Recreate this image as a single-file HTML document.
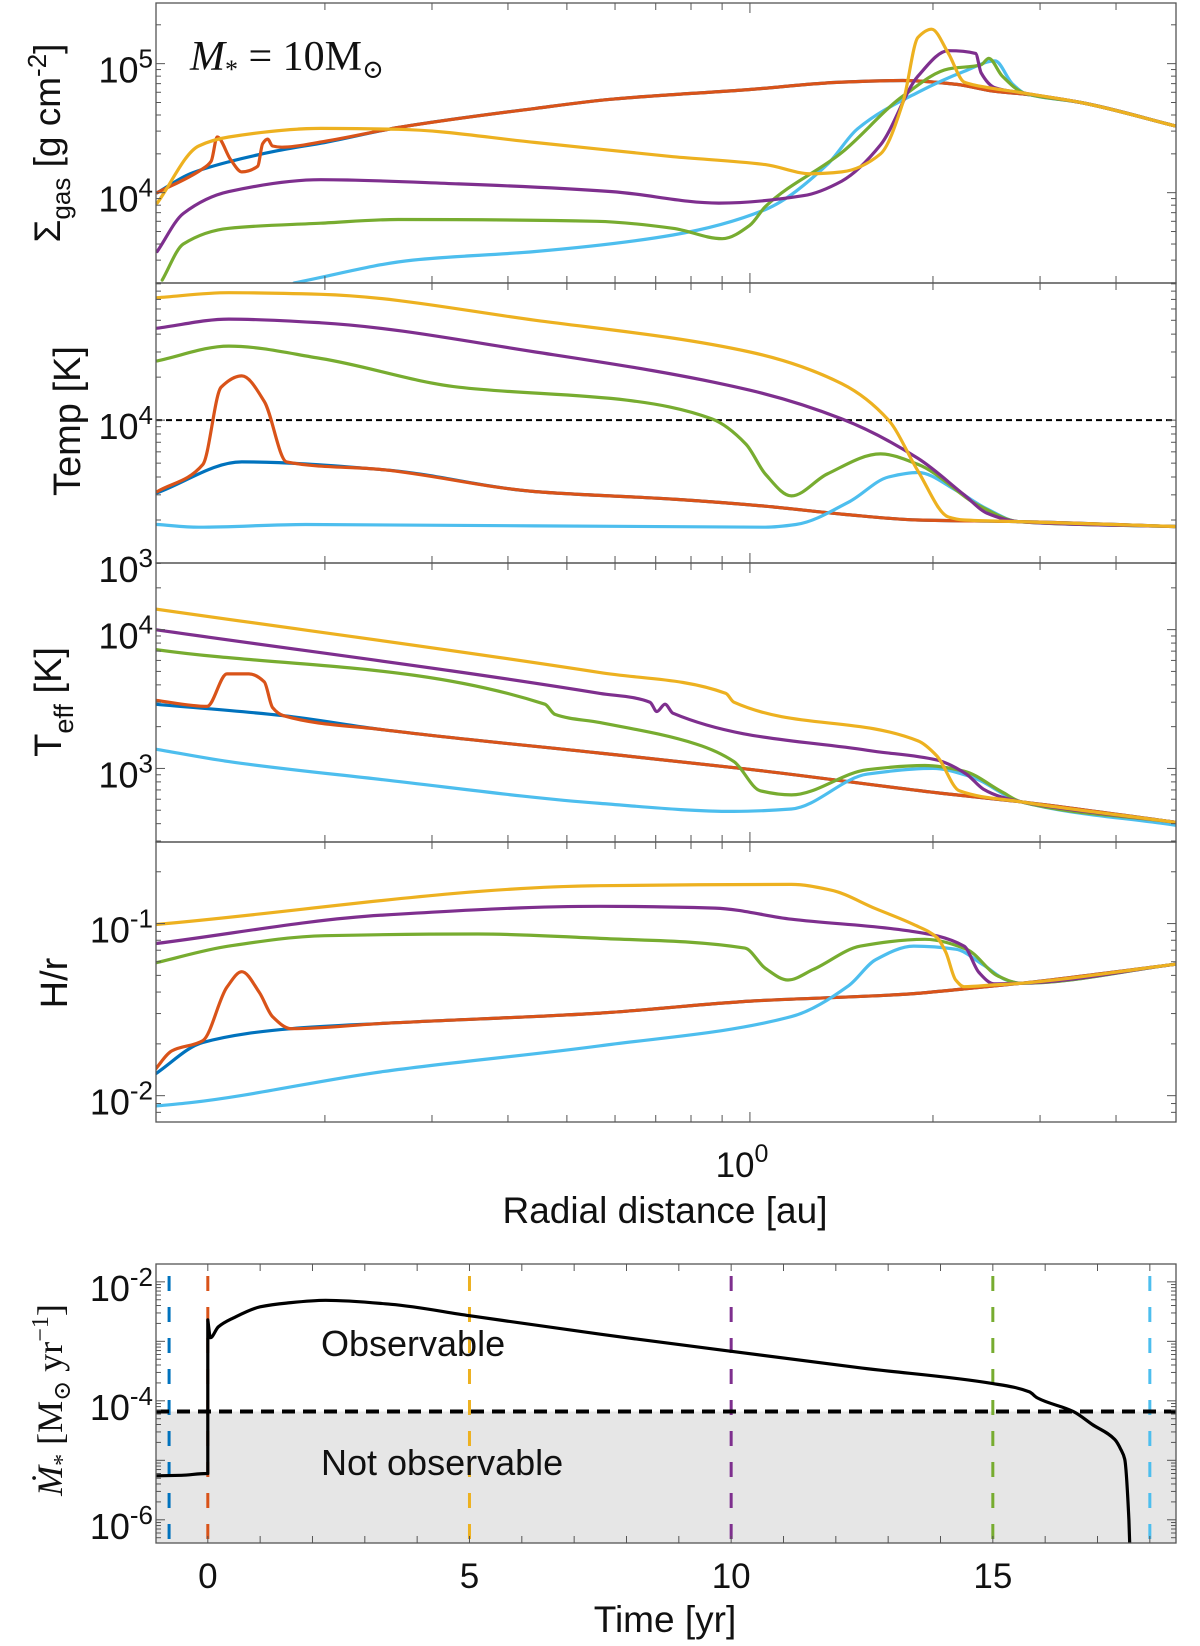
<!DOCTYPE html>
<html><head><meta charset="utf-8">
<style>
html,body{margin:0;padding:0;background:#fff;}
svg{display:block;}
text{font-family:"Liberation Sans",sans-serif;fill:#111;}
.serif{font-family:"Liberation Serif","DejaVu Serif",serif;}
</style></head>
<body>
<svg id="fig" width="1200" height="1646" viewBox="0 0 1200 1646" xmlns="http://www.w3.org/2000/svg">
<defs>
<clipPath id="c1"><rect x="156" y="3" width="1020" height="280"/></clipPath>
<clipPath id="c2"><rect x="156" y="283" width="1020" height="280"/></clipPath>
<clipPath id="c3"><rect x="156" y="563" width="1020" height="279"/></clipPath>
<clipPath id="c4"><rect x="156" y="842" width="1020" height="280"/></clipPath>
<clipPath id="c5"><rect x="156" y="1264" width="1020" height="279"/></clipPath>
</defs>
<g id="layer"></g>
<text x="190" y="70" class="serif" font-size="42"><tspan font-style="italic">M</tspan><tspan font-size="26" dy="8">*</tspan><tspan dy="-8"> = 10M</tspan><tspan font-size="26" dy="8">⊙</tspan></text>
<text transform="rotate(-90 60 143)" x="60" y="143" text-anchor="middle" font-size="37">Σ<tspan font-size="26" dy="10">gas</tspan><tspan dy="-10"> [g cm</tspan><tspan font-size="26" dy="-14">-2</tspan><tspan dy="14">]</tspan></text>
<text transform="rotate(-90 80 421)" x="80" y="421" text-anchor="middle" font-size="38">Temp [K]</text>
<text transform="rotate(-90 61 702)" x="61" y="702" text-anchor="middle" font-size="38">T<tspan font-size="27" dy="12">eff</tspan><tspan dy="-12"> [K]</tspan></text>
<text transform="rotate(-90 67 983)" x="67" y="983" text-anchor="middle" font-size="38">H/r</text>
<text x="742" y="1177" text-anchor="middle" font-size="35">10<tspan font-size="25" dy="-15">0</tspan></text>
<text x="665" y="1223" text-anchor="middle" font-size="37">Radial distance [au]</text>
<text transform="rotate(-90 62 1400)" x="62" y="1400" text-anchor="middle" class="serif" font-size="36"><tspan font-style="italic">Ṁ</tspan><tspan font-size="24" dy="8">*</tspan><tspan dy="-8">  [M</tspan><tspan font-size="24" dy="8">⊙</tspan><tspan dy="-8"> yr</tspan><tspan font-size="24" dy="-14">−1</tspan><tspan dy="14">]</tspan></text>
<text x="665" y="1632" text-anchor="middle" font-size="37">Time [yr]</text>
<text x="321" y="1356" font-size="36">Observable</text>
<text x="321" y="1475" font-size="36">Not observable</text>
</svg>
<script>
// ---------- data ----------
const colBlue="#0072BD",colRed="#D95319",colOrange="#EDB120",colPurple="#7E2F8E",colGreen="#77AC30",colCyan="#4DBEEE";
// Panel 1: surface density
const sigBlueR=[0.106,0.12,0.14,0.166,0.2,0.264,0.444,0.593,1.0,1.416,1.785,2.19,2.53,2.83,3.5,5.0];
const sigBlueV=[1.0e4,1.4e4,1.75e4,2.1e4,2.45e4,3.2e4,4.5e4,5.3e4,6.3e4,7.2e4,7.4e4,6.9e4,6.1e4,5.8e4,5.0e4,3.3e4];
const sigRedR=[0.106,0.125,0.13,0.133,0.14,0.146,0.155,0.158,0.161,0.164,0.17,0.2,0.264,0.444,0.593,1.0,1.416,1.785,2.19,2.53,2.83,3.5,5.0];
const sigRedV=[1.0e4,1.5e4,1.75e4,2.7e4,1.8e4,1.45e4,1.6e4,2.4e4,2.6e4,2.3e4,2.25e4,2.5e4,3.2e4,4.5e4,5.3e4,6.3e4,7.2e4,7.4e4,6.9e4,6.1e4,5.8e4,5.0e4,3.3e4];
const sigOrangeR=[0.106,0.124,0.139,0.197,0.264,0.444,0.747,1.06,1.26,1.416,1.64,1.785,1.89,1.99,2.12,2.25,2.35,2.83,3.5,5.0];
const sigOrangeV=[8.3e3,2.3e4,2.7e4,3.15e4,3.1e4,2.45e4,1.9e4,1.65e4,1.4e4,1.45e4,2.0e4,5.0e4,1.6e5,1.85e5,1.2e5,7.2e4,6.8e4,5.9e4,5.0e4,3.3e4];
const sigPurpleR=[0.106,0.117,0.139,0.197,0.332,0.593,0.889,1.227,1.416,1.64,1.89,2.12,2.35,2.4,2.53,2.83,3.5,5.0];
const sigPurpleV=[3.5e3,6.9e3,1.02e4,1.26e4,1.17e4,1.02e4,8.3e3,9.5e3,1.23e4,2.35e4,8.0e4,1.26e5,1.2e5,8.5e4,6.5e4,5.9e4,5.0e4,3.3e4];
const sigGreenR=[0.108,0.117,0.139,0.197,0.264,0.56,0.747,0.9,1.0,1.06,1.416,1.785,2.12,2.4,2.47,2.6,2.83,3.5,5.0];
const sigGreenV=[2.1e3,4.0e3,5.3e3,5.8e3,6.2e3,6.0e3,5.3e3,4.4e3,5.6e3,7.8e3,2.05e4,5.6e4,9.1e4,9.8e4,1.1e5,8.0e4,5.9e4,5.0e4,3.3e4];
const sigCyanR=[0.178,0.279,0.444,0.747,1.06,1.34,1.5,1.89,2.25,2.53,2.7,2.83,3.5,5.0];
const sigCyanV=[2.0e3,3.0e3,3.5e3,4.7e3,7.4e3,1.65e4,3.1e4,6.0e4,8.7e4,1.05e5,7.0e4,5.9e4,5.0e4,3.3e4];
// Panel 2: midplane temperature
const tmpBlueR=[0.106,0.146,0.249,0.444,0.747,1.06,1.416,1.89,2.76,5.0];
const tmpBlueV=[3.1e3,5.1e3,4.5e3,3.16e3,2.8e3,2.5e3,2.2e3,2.0e3,1.95e3,1.8e3];
const tmpRedR=[0.106,0.126,0.135,0.146,0.159,0.173,0.249,0.444,0.747,1.06,1.416,1.89,2.76,5.0];
const tmpRedV=[3.16e3,4.9e3,1.7e4,2.04e4,1.35e4,5.1e3,4.5e3,3.16e3,2.8e3,2.5e3,2.2e3,2.0e3,1.95e3,1.8e3];
const tmpOrangeR=[0.106,0.139,0.197,0.444,1.0,1.416,1.69,1.89,2.12,2.25,2.76,5.0];
const tmpOrangeV=[7.2e4,7.8e4,7.6e4,5.0e4,3.0e4,1.8e4,1.0e4,4.4e3,2.1e3,2.0e3,1.95e3,1.8e3];
const tmpPurpleR=[0.106,0.139,0.197,0.444,1.0,1.416,1.89,2.25,2.45,2.76,5.0];
const tmpPurpleV=[4.4e4,5.1e4,4.8e4,3.0e4,1.62e4,1.02e4,5.4e3,3.0e3,2.24e3,1.95e3,1.8e3];
const tmpGreenR=[0.106,0.139,0.197,0.332,0.628,0.866,0.985,1.06,1.17,1.34,1.64,1.89,2.39,2.76,5.0];
const tmpGreenV=[2.6e4,3.3e4,2.7e4,1.7e4,1.38e4,1.02e4,6.8e3,4.2e3,2.95e3,4.2e3,5.8e3,4.9e3,2.5e3,1.95e3,1.8e3];
const tmpCyanR=[0.106,0.124,0.186,1.06,1.19,1.46,1.69,1.89,2.19,2.45,2.76,5.0];
const tmpCyanV=[1.86e3,1.78e3,1.86e3,1.78e3,1.86e3,2.7e3,4.0e3,4.3e3,3.2e3,2.4e3,1.95e3,1.8e3];
// Panel 3: effective temperature
const teffBlueR=[0.105,0.171,0.249,0.567,1.01,2.08,2.79,5.0];
const teffBlueV=[2.9e3,2.4e3,1.9e3,1.29e3,980,660,575,410];
const teffRedR=[0.105,0.128,0.138,0.150,0.159,0.164,0.171,0.249,0.567,1.01,2.08,2.79,5.0];
const teffRedV=[3.1e3,2.8e3,4.8e3,4.8e3,4.2e3,2.75e3,2.4e3,1.9e3,1.29e3,980,660,575,410];
const teffOrangeR=[0.105,0.567,0.913,0.941,1.89,2.03,2.21,2.79,5.0];
const teffOrangeV=[1.41e4,4.9e3,3.47e3,3.0e3,1.58e3,1.23e3,690,575,410];
const teffPurpleR=[0.105,0.567,0.685,0.703,0.725,0.747,1.56,2.03,2.27,2.42,2.60,2.79,5.0];
const teffPurpleV=[1.0e4,3.47e3,3.0e3,2.57e3,2.9e3,2.5e3,1.35e3,1.15e3,910,710,620,575,410];
const teffGreenR=[0.105,0.46,0.478,0.567,0.815,0.941,1.04,1.17,1.56,1.94,2.25,2.60,2.79,5.0];
const teffGreenV=[7.2e3,2.9e3,2.45e3,2.14e3,1.5e3,1.12e3,690,645,980,1.05e3,955,675,575,410];
const teffCyanR=[0.105,0.139,0.249,0.567,0.941,1.17,1.56,2.0,2.31,2.79,5.0];
const teffCyanV=[1.38e3,1.12e3,830,560,490,510,910,1.0e3,870,575,390];
// Panel 4: aspect ratio H/r
const hrBlueR=[0.105,0.126,0.176,0.249,0.567,1.01,1.81,2.25,2.79,5.0];
const hrBlueV=[0.0133,0.0204,0.0245,0.0263,0.0302,0.0355,0.0389,0.0417,0.045,0.058];
const hrRedR=[0.105,0.112,0.126,0.138,0.146,0.156,0.164,0.176,0.249,0.567,1.01,1.81,2.25,2.79,5.0];
const hrRedV=[0.0141,0.0182,0.0209,0.0427,0.0525,0.0398,0.0288,0.0245,0.0263,0.0302,0.0355,0.0389,0.0417,0.045,0.058];
const hrOrangeR=[0.105,0.567,1.17,1.355,1.61,1.86,2.03,2.1,2.18,2.25,2.52,2.79,5.0];
const hrOrangeV=[0.0986,0.166,0.169,0.157,0.122,0.0986,0.083,0.068,0.047,0.043,0.044,0.045,0.058];
const hrPurpleR=[0.105,0.249,0.567,0.876,1.17,1.81,2.25,2.38,2.52,2.79,5.0];
const hrPurpleV=[0.0764,0.112,0.126,0.123,0.106,0.091,0.074,0.052,0.0447,0.045,0.058];
const hrGreenR=[0.105,0.139,0.2,0.357,0.567,0.981,1.06,1.155,1.27,1.52,1.94,2.27,2.56,2.79,5.0];
const hrGreenV=[0.0589,0.074,0.085,0.087,0.082,0.072,0.055,0.047,0.054,0.074,0.081,0.071,0.0495,0.045,0.058];
const hrCyanR=[0.105,0.12,0.249,0.567,1.17,1.455,1.61,1.86,2.18,2.42,2.64,2.79,5.0];
const hrCyanV=[0.0087,0.0091,0.0138,0.0195,0.0288,0.0437,0.0617,0.074,0.071,0.0575,0.047,0.045,0.058];
// Bottom: accretion rate
const mdotT=[-0.99,-0.5,-0.02,0,0,0.05,0.2,0.48,1,1.5,2.25,3.5,5,7.5,10,12.5,15,15.7,15.85,16.54,16.9,17.33,17.45,17.52,17.6,17.62];
const mdotV=[5.5e-6,5.6e-6,6.0e-6,6.0e-6,2.3e-3,1.15e-3,1.75e-3,2.45e-3,3.8e-3,4.4e-3,4.9e-3,4.2e-3,2.7e-3,1.32e-3,6.8e-4,3.55e-4,1.95e-4,1.41e-4,1.12e-4,6.6e-5,4.0e-5,2.24e-5,1.5e-5,1.05e-5,1.0e-6,3.0e-7];
const snapTimes=[-0.74,0,5,10,15,18.0];
const snapColors=[colBlue,colRed,colOrange,colPurple,colGreen,colCyan];
const threshold=6.6e-5;
const timeTicks=[0,5,10,15];
const rTicks=[0.2,0.3,0.4,0.5,0.6,0.7,0.8,0.9,1,2,3,4];

// ---------- helpers ----------
const NS="http://www.w3.org/2000/svg";
const layer=document.getElementById('layer');
function mk(tag,attrs,parent){const e=document.createElementNS(NS,tag);for(const k in attrs)e.setAttribute(k,attrs[k]);(parent||layer).appendChild(e);return e;}
const X0=156,X1=1176;
const rMinL=Math.log10(0.1055),rMaxL=Math.log10(5.02);
function xr(r){return X0+(Math.log10(r)-rMinL)/(rMaxL-rMinL)*(X1-X0);}
const tMin=-0.99,tMax=18.5;
function xt(t){return X0+(t-tMin)/(tMax-tMin)*(X1-X0);}
function yLog(p,v){return p.top+(p.lmax-Math.log10(v))/(p.lmax-p.lmin)*(p.bot-p.top);}

// monotone cubic path through pixel points (x non-decreasing; equal x -> vertical join)
function monoPath(pts){
  const runs=[];let cur=[pts[0]];
  for(let i=1;i<pts.length;i++){
    if(pts[i][0]-cur[cur.length-1][0]<0.01){runs.push(cur);cur=[pts[i]];}
    else cur.push(pts[i]);
  }
  runs.push(cur);
  let d='';
  runs.forEach((P,ri)=>{
    d+=(ri?'L':'M')+P[0][0].toFixed(1)+','+P[0][1].toFixed(1);
    const n=P.length;if(n<2)return;
    const s=[],m=[];
    for(let i=0;i<n-1;i++)s.push((P[i+1][1]-P[i][1])/(P[i+1][0]-P[i][0]));
    for(let i=0;i<n;i++){
      if(i===0)m.push(s[0]);else if(i===n-1)m.push(s[n-2]);
      else if(s[i-1]*s[i]<=0)m.push(0);
      else{const h0=P[i][0]-P[i-1][0],h1=P[i+1][0]-P[i][0];
        m.push(3*(h0+h1)/((2*h1+h0)/s[i-1]+(h1+2*h0)/s[i]));}
    }
    for(let i=0;i<n-1;i++){
      const h=(P[i+1][0]-P[i][0])/3;
      d+='C'+(P[i][0]+h).toFixed(1)+','+(P[i][1]+m[i]*h).toFixed(1)+' '+
        (P[i+1][0]-h).toFixed(1)+','+(P[i+1][1]-m[i+1]*h).toFixed(1)+' '+
        P[i+1][0].toFixed(1)+','+P[i+1][1].toFixed(1);
    }
  });
  return d;
}

const panels=[
 {top:3,bot:283,lmin:3.30,lmax:5.47,labels:[4,5],clip:'c1',name:'sigma-gas'},
 {top:283,bot:563,lmin:3.0,lmax:4.96,labels:[3,4],clip:'c2',name:'temp'},
 {top:563,bot:842,lmin:2.47,lmax:4.48,labels:[3,4],clip:'c3',name:'teff'},
 {top:842,bot:1122,lmin:-2.153,lmax:-0.526,labels:[-2,-1],clip:'c4',name:'h-over-r'}
];
const bottomP={top:1264,bot:1543,lmin:-6.39,lmax:-1.70,labels:[-6,-4,-2],clip:'c5',name:'mdot'};

function yTicks(p,g){
  for(let d=Math.floor(p.lmin);d<=Math.ceil(p.lmax);d++){
    for(let m=1;m<10;m++){
      const l=d+Math.log10(m);
      if(l<p.lmin||l>p.lmax)continue;
      const y=yLog(p,Math.pow(10,l));
      const len=m===1?9:5;
      const t1=mk('line',{x1:X0,x2:X0+len,y1:y,y2:y,stroke:'#555','stroke-width':1},g);
      
      
      const t2=mk('line',{x1:X1,x2:X1-len,y1:y,y2:y,stroke:'#555','stroke-width':1},g);
      
      
    }
  }
  p.labels.forEach(e=>{
    const y=yLog(p,Math.pow(10,e));
    const tx=mk('text',{x:153,y:y+19,'text-anchor':'end','font-size':36},g);
    
    
    tx.textContent='10';
    const sp=mk('tspan',{dy:-15,'font-size':26},tx);
    sp.textContent=String(e);
  });
}
function frame(p,g){
  const r=mk('rect',{x:X0,y:p.top,width:X1-X0,height:p.bot-p.top,fill:'none',stroke:'#555','stroke-width':1.3},g);
  
  
}
function series(p,R,V,color,name,g,xf){
  const pts=R.map((r,i)=>[xf(r),yLog(p,V[i])]);
  const path=mk('path',{d:monoPath(pts),fill:'none',stroke:color,'stroke-width':3.2,'stroke-linejoin':'round','stroke-linecap':'round','clip-path':'url(#'+p.clip+')'},g);
  
  
}

// ---------- radial panels ----------
const panelData=[
 [[sigBlueR,sigBlueV],[sigRedR,sigRedV],[sigCyanR,sigCyanV],[sigGreenR,sigGreenV],[sigPurpleR,sigPurpleV],[sigOrangeR,sigOrangeV]],
 [[tmpBlueR,tmpBlueV],[tmpRedR,tmpRedV],[tmpCyanR,tmpCyanV],[tmpGreenR,tmpGreenV],[tmpPurpleR,tmpPurpleV],[tmpOrangeR,tmpOrangeV]],
 [[teffBlueR,teffBlueV],[teffRedR,teffRedV],[teffCyanR,teffCyanV],[teffGreenR,teffGreenV],[teffPurpleR,teffPurpleV],[teffOrangeR,teffOrangeV]],
 [[hrBlueR,hrBlueV],[hrRedR,hrRedV],[hrCyanR,hrCyanV],[hrGreenR,hrGreenV],[hrPurpleR,hrPurpleV],[hrOrangeR,hrOrangeV]]
];
const drawColors=[colBlue,colRed,colCyan,colGreen,colPurple,colOrange];
const colorNames=['blue','red','cyan','green','purple','orange'];
panels.forEach((p,pi)=>{
  const g=mk('g',{});
  
  
  if(pi===1){
    const y=yLog(p,1e4);
    const hl=mk('line',{x1:X0,x2:X1,y1:y,y2:y,stroke:'#000','stroke-width':2,'stroke-dasharray':'6 4'},g);
    
    
  }
  panelData[pi].forEach((s,si)=>series(p,s[0],s[1],drawColors[si],p.name+'-'+colorNames[si]+'-line',g,xr));
  rTicks.forEach(r=>{
    const x=xr(r);const len=r===1?10:7;
    const a=mk('line',{x1:x,x2:x,y1:p.bot,y2:p.bot-len,stroke:'#555','stroke-width':1},g);
    
    
    const b=mk('line',{x1:x,x2:x,y1:p.top,y2:p.top+len,stroke:'#555','stroke-width':1},g);
    
    
  });
  yTicks(p,g);
  frame(p,g);
});

// ---------- bottom panel ----------
(function(){
  const p=bottomP;
  const g=mk('g',{});
  
  
  const yth=yLog(p,threshold);
  const fill=mk('rect',{x:X0,y:yth,width:X1-X0,height:p.bot-yth,fill:'#e6e6e6'},g);
  
  
  snapTimes.forEach((t,i)=>{
    const x=xt(t);
    const l=mk('line',{x1:x,x2:x,y1:p.top+12,y2:p.bot,stroke:snapColors[i],'stroke-width':3,'stroke-dasharray':'15 16','clip-path':'url(#c5)'},g);
    
    
  });
  series(p,mdotT,mdotV,'#000','accretion-rate-line',g,xt);
  const th=mk('line',{x1:X0,x2:X1,y1:yth,y2:yth,stroke:'#000','stroke-width':4,'stroke-dasharray':'13 8'},g);
  
  
  for(let t=0;t<=18;t++){
    const x=xt(t);
    const a=mk('line',{x1:x,x2:x,y1:p.bot,y2:p.bot-7,stroke:'#555','stroke-width':1},g);
    
    
    const b=mk('line',{x1:x,x2:x,y1:p.top,y2:p.top+7,stroke:'#555','stroke-width':1},g);
    
    
  }
  timeTicks.forEach(t=>{
    const tx=mk('text',{x:xt(t),y:1588,'text-anchor':'middle','font-size':35},g);
    
    
    tx.textContent=String(t);
  });
  yTicks(p,g);
  frame(p,g);
})();
</script>
</body></html>
